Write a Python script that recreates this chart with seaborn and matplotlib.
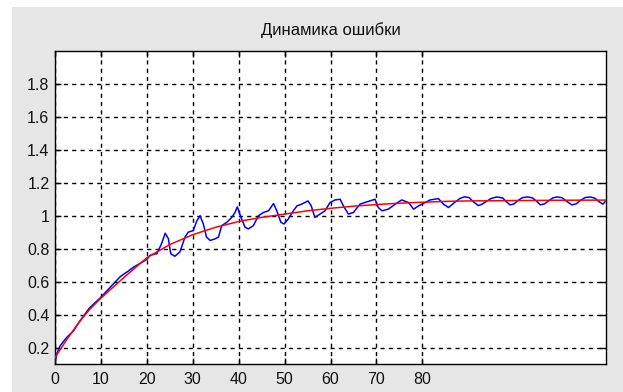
import numpy as np
import pandas as pd
import matplotlib
matplotlib.use("Agg")
import matplotlib.pyplot as plt
import seaborn as sns
from matplotlib.patches import Rectangle

# ---- data ----
title = "Динамика ошибки"

blue_x = [0, 0.5, 1.1, 2.5, 4, 5.4, 7.5, 9.8, 12, 14.2, 16, 17.2, 18.5, 20, 20.7, 22.2,
          23.2, 24.0, 24.7, 25.2, 26.1, 27.2, 28.3, 29.0, 30.1, 30.9, 31.6, 32.3, 33.0,
          33.8, 34.9, 35.6, 36.3, 37.4, 38.5, 39.2, 39.7, 40.5, 41.4, 42.1, 43.2, 44.3,
          45.4, 46.5, 47.6, 48.3, 49.2, 49.9, 50.8, 51.9, 52.7, 53.7, 55.1, 55.8, 56.6,
          57.7, 58.8, 59.9, 61.0, 62.1, 62.8, 63.9, 65.0, 66.4, 67.9, 69.7, 70.4, 71.2,
          72.6, 74.1, 75.5, 77.0, 78.1, 79.2, 80.6, 81.7, 83.5, 84.6, 85.7, 87.0, 88.2,
          89.2, 90.2, 91.1, 92.2, 93.0, 94.0, 95.0, 96.2, 97.5, 98.3, 99.1, 100.0, 100.8,
          101.8, 103.0, 104.0, 105.0, 105.7, 106.6, 107.5, 108.4, 109.3, 110.4, 111.4,
          112.6, 113.5, 114.4, 115.4, 116.6, 117.6, 118.5, 119.3, 119.8]
blue_y = [0.11, 0.17, 0.21, 0.26, 0.30, 0.36, 0.44, 0.50, 0.565, 0.63, 0.665, 0.69, 0.71,
          0.735, 0.76, 0.77, 0.83, 0.894, 0.86, 0.77, 0.754, 0.78, 0.87, 0.90, 0.91, 0.97,
          1.0, 0.95, 0.87, 0.85, 0.86, 0.87, 0.94, 0.96, 0.99, 1.02, 1.054, 0.99, 0.93,
          0.92, 0.94, 1.0, 1.02, 1.03, 1.074, 1.03, 0.96, 0.95, 0.98, 1.03, 1.06, 1.07,
          1.09, 1.06, 0.99, 1.01, 1.03, 1.08, 1.096, 1.10, 1.06, 1.01, 1.02, 1.07, 1.084,
          1.10, 1.05, 1.03, 1.04, 1.07, 1.096, 1.08, 1.04, 1.06, 1.08, 1.096, 1.104, 1.07,
          1.05, 1.08, 1.105, 1.115, 1.11, 1.085, 1.062, 1.07, 1.088, 1.105, 1.114, 1.108,
          1.085, 1.066, 1.072, 1.092, 1.11, 1.114, 1.108, 1.085, 1.066, 1.072, 1.09, 1.108,
          1.114, 1.11, 1.088, 1.066, 1.072, 1.092, 1.11, 1.114, 1.106, 1.085, 1.07, 1.086]

red_x = [0, 2.5, 5, 7.5, 10, 15, 20, 25, 30, 35, 40, 45, 50, 55, 60, 65, 70, 75, 80, 85,
         90, 100, 110, 120]
red_y = [0.14, 0.245, 0.345, 0.43, 0.50, 0.625, 0.745, 0.825, 0.885, 0.93, 0.965, 0.99,
         1.01, 1.03, 1.045, 1.058, 1.068, 1.076, 1.082, 1.087, 1.09, 1.092, 1.094, 1.095]

x_ticks = [0, 10, 20, 30, 40, 50, 60, 70, 80]
y_ticks = [0.2, 0.4, 0.6, 0.8, 1.0, 1.2, 1.4, 1.6, 1.8]
y_tick_labels = ["0.2", "0.4", "0.6", "0.8", "1", "1.2", "1.4", "1.6", "1.8"]

# ---- style ----
sns.set_style("white")
plt.rcParams["font.family"] = ["Liberation Sans", "DejaVu Sans"]

W, H = 623, 392
fig = plt.figure(figsize=(W / 100, H / 100), dpi=100)
fig.patch.set_facecolor("white")
bg = Rectangle((12 / W, 0), 1 - 12 / W, 1 - 7 / H,
               transform=fig.transFigure, facecolor="#e6e6e6",
               edgecolor="none", zorder=-10)
fig.add_artist(bg)

ax = fig.add_axes([55 / W, 1 - 364 / H, (606 - 55) / W, (364 - 51) / H])
ax.set_zorder(1)
ax.set_facecolor("white")

blue_df = pd.DataFrame({"x": blue_x, "y": blue_y})
red_df = pd.DataFrame({"x": red_x, "y": red_y})
sns.lineplot(data=blue_df, x="x", y="y", color="#0000ff", linewidth=1.1, ax=ax,
             estimator=None, sort=False, zorder=3)
sns.lineplot(data=red_df, x="x", y="y", color="#ff0000", linewidth=1.1, ax=ax,
             estimator=None, sort=False, zorder=4)

ax.set_xlim(0, 120)
ax.set_ylim(0.1, 2.0)
ax.set_xticks(x_ticks)
ax.set_xticklabels([str(t) for t in x_ticks])
ax.set_yticks(y_ticks)
ax.set_yticklabels(y_tick_labels)
ax.set_xlabel("")
ax.set_ylabel("")

ax.grid(True, color="black", linestyle=(0, (3, 3)), linewidth=1.0)
ax.set_axisbelow(True)
for s in ax.spines.values():
    s.set_visible(True)
    s.set_color("black")
    s.set_linewidth(1.0)

ax.tick_params(axis="both", direction="in", length=4, width=1, color="black",
               labelsize=11.5, labelcolor="#111111", top=True, right=True,
               bottom=True, left=True)
ax.tick_params(axis="x", pad=6)
ax.tick_params(axis="y", pad=4)

fig.text(330.5 / W, 1 - 30 / H, title, ha="center", va="center", fontsize=12,
         color="#111111")

fig.savefig("out.png", dpi=100, facecolor=fig.get_facecolor())
